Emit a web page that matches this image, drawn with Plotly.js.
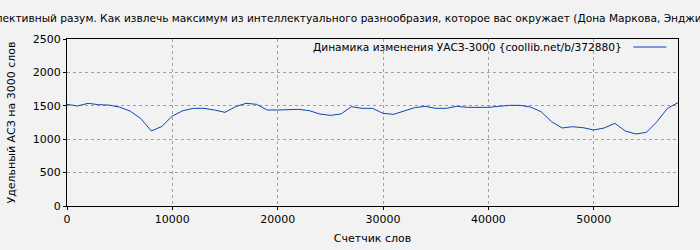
<!DOCTYPE html>
<html>
<head>
<meta charset="utf-8">
<script src="https://cdn.plot.ly/plotly-3.0.1.min.js"></script>
<style>html,body{margin:0;padding:0;background:#f2f2f2;}#chart{width:700px;height:250px;}</style>
</head>
<body>
<div id="chart"></div>
<script>
const chartTitle = "Коллективный разум. Как извлечь максимум из интеллектуального разнообразия, которое вас окружает (Дона Маркова, Энджи Маккартур)";
const seriesName = "Динамика изменения УАСЗ-3000 {coollib.net/b/372880}";
const xTitle = "Счетчик слов";
const yTitle = "Удельный АСЗ на 3000 слов";
const wordCounts = [0,1000,2000,3000,4000,5000,6000,7000,8000,9000,10000,11000,12000,13000,14000,15000,16000,17000,18000,19000,20000,21000,22000,23000,24000,25000,26000,27000,28000,29000,30000,31000,32000,33000,34000,35000,36000,37000,38000,39000,40000,41000,42000,43000,44000,45000,46000,47000,48000,49000,50000,51000,52000,53000,54000,55000,56000,57000,58000];
const uasz = [1522,1497,1537,1517,1510,1480,1420,1310,1123,1190,1347,1427,1462,1462,1437,1402,1487,1537,1522,1437,1437,1447,1447,1427,1377,1357,1377,1487,1462,1462,1387,1372,1427,1472,1492,1462,1462,1492,1477,1477,1477,1492,1507,1507,1482,1412,1262,1168,1187,1172,1138,1168,1238,1123,1078,1103,1262,1462,1547];

const font = {family: "DejaVu Sans, sans-serif", size: 11, color: "#000"};
const trace = {
  x: wordCounts, y: uasz, type: "scatter", mode: "lines", name: seriesName,
  line: {color: "#0a47b0", width: 1}, showlegend: false
};
const layout = {
  width: 700, height: 250,
  margin: {l: 67, r: 22, t: 39, b: 44},
  paper_bgcolor: "#f2f2f2", plot_bgcolor: "#f2f2f2",
  font: font,
  title: {text: chartTitle, font: {family: "DejaVu Sans, sans-serif", size: 10.6, color: "#000"}, x: 0.5, xref: "paper", xanchor: "center", y: 0.925, yref: "container", yanchor: "middle"},
  xaxis: {
    range: [0, 58000], tickvals: [0,10000,20000,30000,40000,50000], ticktext: ["0","10000","20000","30000","40000","50000"],
    showgrid: true, gridcolor: "#a0a0a0", griddash: "dot", gridwidth: 1,
    showline: true, linecolor: "#000", linewidth: 1, mirror: true,
    ticks: "outside", ticklen: 3, tickcolor: "#000", zeroline: false,
    title: {text: xTitle, font: font, standoff: 9}
  },
  yaxis: {
    range: [0, 2500], tickvals: [0,500,1000,1500,2000,2500],
    showgrid: true, gridcolor: "#a0a0a0", griddash: "dot", gridwidth: 1,
    showline: true, linecolor: "#000", linewidth: 1, mirror: true,
    ticks: "outside", ticklen: 3, tickcolor: "#000", zeroline: false,
    title: {text: yTitle, font: font, standoff: 14}
  },
  annotations: [{
    text: seriesName, xref: "paper", yref: "paper", x: 0.912, y: 0.952,
    xanchor: "right", yanchor: "middle", showarrow: false,
    font: {family: "DejaVu Sans, sans-serif", size: 10.6, color: "#000"}
  }],
  shapes: [{
    type: "line", xref: "paper", yref: "paper", x0: 0.927, x1: 0.981, y0: 0.952, y1: 0.952,
    line: {color: "#0a47b0", width: 1}
  }]
};
Plotly.newPlot("chart", [trace], layout, {displayModeBar: false, staticPlot: true});
</script>
</body>
</html>
